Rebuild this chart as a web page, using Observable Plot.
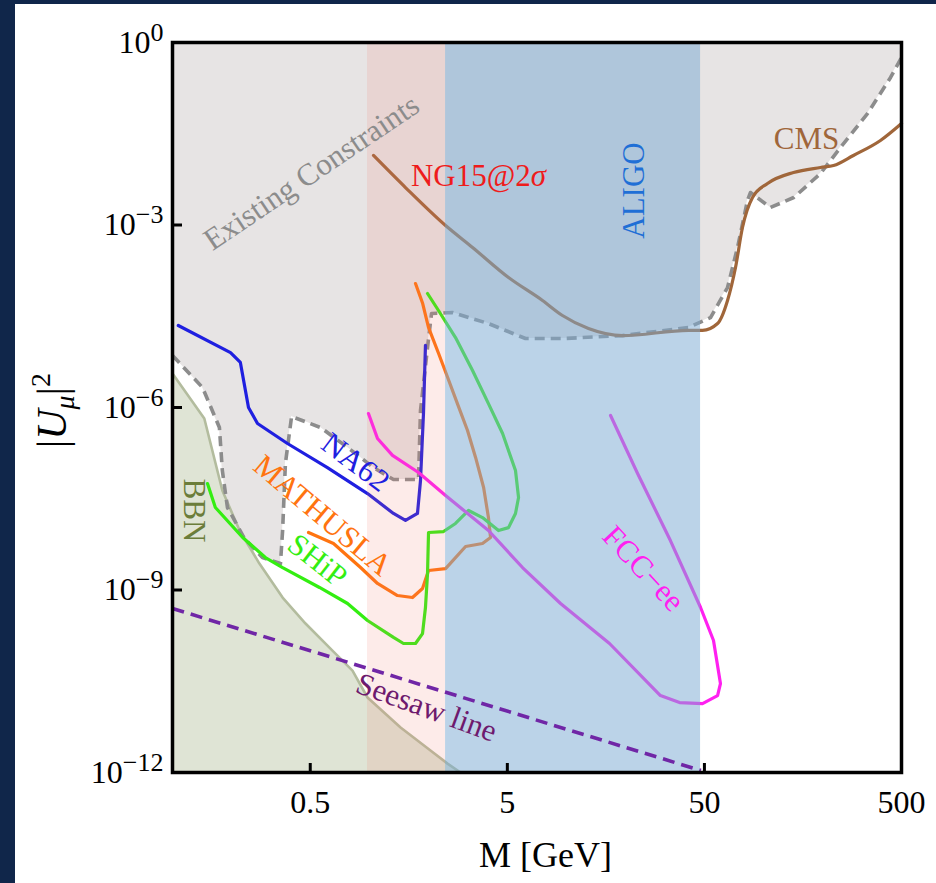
<!DOCTYPE html>
<html><head><meta charset="utf-8">
<script src="https://cdn.jsdelivr.net/npm/d3@7"></script>
<script src="https://cdn.jsdelivr.net/npm/@observablehq/plot@0.6"></script>
<style>
html,body{margin:0;padding:0;background:#10264a;width:936px;height:883px;overflow:hidden;}
#panel{position:absolute;left:15px;top:4px;width:921px;height:879px;background:#fff;}
</style></head><body><div id="panel"></div>
<script>
// ---- data (M in GeV, |U_mu|^2) ----
const existM = [0.1, 0.142, 0.173, 0.179, 0.190, 0.232, 0.286, 0.353, 0.362, 0.374, 0.402, 0.564, 0.773, 1.047, 1.322, 1.771, 1.813, 1.968, 2.062, 2.634, 4.01, 6.18, 9.52, 19.2, 41.5, 53.7, 65.5, 73.6, 82.7, 85.6, 108, 142, 194, 245, 336, 440, 500];
const existU = [7.16e-6, 2.13e-6, 4.69e-7, 9.2e-8, 2.27e-8, 7.0e-9, 3.42e-9, 2.72e-9, 9.5e-9, 1.2e-7, 7.11e-7, 4.69e-7, 2.2e-7, 1.03e-7, 6.55e-8, 6.55e-8, 8.91e-7, 9.68e-6, 3.51e-5, 3.64e-5, 2.4e-5, 1.36e-5, 1.36e-5, 1.52e-5, 2.07e-5, 3.01e-5, 9.38e-5, 4.27e-4, 2.53e-3, 3.42e-3, 1.94e-3, 2.83e-3, 7.02e-3, 1.88e-2, 6.8e-2, 0.266, 0.567];

const bbnM = [0.1, 0.145, 0.179, 0.219, 0.276, 0.362, 0.473, 0.648, 0.819, 0.976, 1.436, 2.037, 2.486, 2.893];
const bbnU = [3.62e-6, 6.59e-7, 4.32e-8, 9.5e-9, 2.72e-9, 7.52e-10, 2.81e-10, 1.01e-10, 4.74e-11, 1.71e-11, 5.48e-12, 2.3e-12, 1.4e-12, 1e-12];

const na62M = [0.107, 0.197, 0.221, 0.243, 0.270, 0.383, 0.611, 0.976, 1.322, 1.521, 1.750, 1.813, 1.877, 1.921];
const na62U = [2.23e-5, 8.0e-6, 5.5e-6, 1.0e-6, 5.46e-7, 2.56e-7, 1.03e-7, 3.85e-8, 1.81e-8, 1.39e-8, 1.81e-8, 6.31e-8, 7.96e-7, 1.05e-5];

const mathM = [0.490, 0.656, 0.900, 1.097, 1.385, 1.651, 1.856, 1.991, 2.43, 3.07, 3.74, 4.11, 4.01, 3.79, 3.45, 3.14, 2.79, 2.49, 2.24, 1.99, 1.86, 1.71];
const mathU = [8.81e-9, 5.81e-9, 2.34e-9, 1.28e-9, 8.11e-10, 7.52e-10, 1.06e-9, 2.09e-9, 2.25e-9, 5.19e-9, 5.81e-9, 7.29e-9, 1.55e-8, 4.84e-8, 1.51e-7, 4.19e-7, 1.16e-6, 3.11e-6, 7.71e-6, 2.07e-5, 5.12e-5, 1.09e-4];

const shipM = [0.1505, 0.165, 0.227, 0.296, 0.362, 0.557, 0.773, 0.976, 1.322, 1.486, 1.710, 1.856, 1.921, 1.968, 1.991, 2.372, 2.729, 3.177, 3.74, 4.51, 5.07, 5.50, 5.70, 5.50, 4.73, 4.01, 3.33, 2.729, 2.237, 1.968];
const shipU = [5.62e-8, 2.27e-8, 7.29e-9, 3.42e-9, 2.34e-9, 1.1e-9, 6.0e-10, 3.15e-10, 1.66e-10, 1.32e-10, 1.32e-10, 1.92e-10, 5.15e-10, 1.87e-9, 8.81e-9, 9.14e-9, 1.24e-8, 2.03e-8, 1.55e-8, 9.5e-9, 1.06e-8, 1.81e-8, 3.31e-8, 9.2e-8, 3.73e-7, 1.16e-6, 4.05e-6, 1.41e-5, 3.93e-5, 7.48e-5];

const fccM = [0.987, 1.097, 1.307, 1.771, 2.43, 4.01, 5.97, 9.31, 16.5, 29.9, 37.4, 48.9, 58.3, 60.3, 55.6, 47.8, 33.6, 22.9, 16.7];
const fccU = [7.96e-7, 3.09e-7, 1.63e-7, 8.53e-8, 3.57e-8, 9.5e-9, 2.34e-9, 6.0e-10, 1.32e-10, 1.84e-11, 1.41e-11, 1.36e-11, 1.84e-11, 2.9e-11, 1.48e-10, 5.15e-10, 6.5e-9, 8.22e-8, 7.38e-7];

const cmsM = [1.047, 1.521, 2.43, 3.33, 5.07, 7.54, 9.52, 12.9, 19.2, 41.5, 48.9, 58.3, 65.5, 71.9, 78.0, 87.7, 104.5, 141.6, 194, 226, 285, 391, 500];
const cmsU = [1.39e-2, 4.13e-3, 9.8e-4, 4.27e-4, 1.37e-4, 5.74e-5, 3.25e-5, 1.99e-5, 1.52e-5, 1.85e-5, 1.85e-5, 2.4e-5, 5.74e-5, 2.0e-4, 9.1e-4, 2.83e-3, 4.81e-3, 7.29e-3, 8.81e-3, 9.5e-3, 1.39e-2, 2.45e-2, 4.66e-2];

const seesawM = [0.1, 48];
const seesawU = [4.96e-10, 1.08e-12];

const ng15Band = [0.976, 2.43];
const aligoBand = [2.43, 47.8];

const xTickVals = [0.5, 5, 50, 500];
const xTickLabels = ["0.5", "5", "50", "500"];
const yTickVals = [1, 1e-3, 1e-6, 1e-9, 1e-12];
const yTickLabels = ["10^0", "10^−3", "10^−6", "10^−9", "10^−12"];

const labels = [
  {text: "Existing Constraints", M: 0.507, U: 7.3e-3, rotate: -34, color: "#8c8c8c"},
  {text: "NG15@2σ", M: 3.57, U: 6.3e-3, rotate: 0, color: "#ee1c1c"},
  {text: "ALIGO", M: 22.1, U: 3.69e-3, rotate: -90, color: "#1f6fd6"},
  {text: "CMS", M: 165, U: 2.54e-2, rotate: 0, color: "#a0663a"},
  {text: "NA62", M: 0.848, U: 1.25e-7, rotate: 37, color: "#1f1fe0"},
  {text: "MATHUSLA", M: 0.577, U: 1.68e-8, rotate: 40, color: "#ff7410"},
  {text: "SHiP", M: 0.544, U: 3.05e-9, rotate: 38, color: "#33ee11"},
  {text: "BBN", M: 0.1278, U: 2.03e-8, rotate: 90, color: "#6b7d3a"},
  {text: "FCC−ee", M: 24.5, U: 2.25e-9, rotate: 47, color: "#ff20f0"},
  {text: "Seesaw line", M: 1.945, U: 1.17e-11, rotate: 20, color: "#6e1a6e"}
];
const yTitle = {text: "|Uμ|2", M: 0.1, U: 8.9e-7};

// ---- build ----
const rows = (M, U) => M.map((m, i) => ({M: m, U: U[i]}));
const font = "'Liberation Serif', 'Times New Roman', serif";
const existData = rows(existM, existU).map(d => ({...d, top: 1}));
const bbnData = rows(bbnM, bbnU).map(d => ({...d, bottom: 1e-12}));
const lineOpts = {x: "M", y: "U", strokeWidth: 3.2, strokeLinejoin: "round", strokeLinecap: "round"};

const chart = Plot.plot({
  width: 921, height: 879,
  marginLeft: 157, marginRight: 35, marginTop: 38, marginBottom: 111,
  x: {type: "log", domain: [0.1, 500], axis: null},
  y: {type: "log", domain: [1e-12, 1], axis: null},
  style: {fontFamily: font, background: "transparent", overflow: "visible", color: "black"},
  marks: [
    Plot.areaY(existData, {x: "M", y1: "U", y2: "top", fill: "#e7e4e4"}),
    Plot.areaY(bbnData, {x: "M", y1: "bottom", y2: "U", fill: "#dfe4d5"}),
    Plot.line(bbnData, {...lineOpts, stroke: "#b3bc9e", strokeWidth: 2.6}),
    Plot.line(rows(existM, existU), {...lineOpts, stroke: "#8c8c8c", strokeWidth: 3.6, strokeDasharray: "10,6", strokeLinecap: "butt"}),
    Plot.line(rows(cmsM, cmsU), {...lineOpts, stroke: "#a0663a", curve: "monotone-x"}),
    Plot.line(rows(na62M, na62U), {...lineOpts, stroke: "#1f1fe0"}),
    Plot.line(rows(mathM, mathU), {...lineOpts, stroke: "#ff7410"}),
    Plot.line(rows(shipM, shipU), {...lineOpts, stroke: "#33ee11"}),
    Plot.line(rows(fccM, fccU), {...lineOpts, stroke: "#ff20f0"}),
    Plot.rect([{x1: ng15Band[0], x2: ng15Band[1], y1: 1e-12, y2: 1}], {x1: "x1", x2: "x2", y1: "y1", y2: "y2", fill: "#f07a6a", fillOpacity: 0.15}),
    Plot.rect([{x1: aligoBand[0], x2: aligoBand[1], y1: 1e-12, y2: 1}], {x1: "x1", x2: "x2", y1: "y1", y2: "y2", fill: "#7caad3", fillOpacity: 0.52}),
    Plot.line(rows(seesawM, seesawU), {...lineOpts, stroke: "#7026a6", strokeWidth: 3.6, strokeDasharray: "12,7", strokeLinecap: "butt"}),
    ...labels.map(l => Plot.text([l], {x: "M", y: "U", text: "text", rotate: l.rotate, fill: l.color, fontSize: 31, textAnchor: "middle", lineAnchor: "middle"})),
    Plot.tickX(xTickVals.slice(0, 3), {x: d => d, insetTop: 721, strokeWidth: 3, stroke: "black"}),
    Plot.tickY(yTickVals.slice(1, 4), {y: d => d, insetRight: 719, strokeWidth: 3, stroke: "black"}),
    Plot.frame({stroke: "black", strokeWidth: 3.5}),
    Plot.text(xTickVals, {x: d => d, frameAnchor: "bottom", text: (d, i) => xTickLabels[i], dy: 30, fontSize: 32, lineAnchor: "middle", fill: "black"}),
    Plot.axisY({ticks: yTickVals, tickSize: 0, tickPadding: 9, fontSize: 32, tickFormat: d => yTickLabels[yTickVals.indexOf(d)], label: null}),
    Plot.text(["M [GeV]"], {text: d => d, frameAnchor: "bottom", dx: 8.5, dy: 83, fontSize: 36, lineAnchor: "middle"}),
    Plot.text([yTitle], {x: "M", y: "U", text: "text", dx: -120, rotate: -90, fontSize: 42, textAnchor: "middle", lineAnchor: "middle"})
  ]
});

document.getElementById("panel").appendChild(chart);

// rich text: superscripts, italics
const svg = d3.select(chart);
svg.selectAll('g[aria-label="y-axis tick label"] text').each(function() {
  const parts = this.textContent.split("^");
  if (parts.length !== 2) return;
  const s = d3.select(this);
  s.text(parts[0]);
  s.append("tspan").attr("font-size", 26).attr("dy", -12).text(parts[1]);
});
svg.selectAll("text").each(function() {
  const t = this.textContent;
  const s = d3.select(this);
  if (t === "NG15@2σ") {
    s.text("NG15@2");
    s.append("tspan").attr("font-style", "italic").text("σ");
  } else if (t === "|Uμ|2") {
    s.text("|");
    s.append("tspan").attr("font-style", "italic").text("U");
    s.append("tspan").attr("font-style", "italic").attr("font-size", 28).attr("dy", 8).text("μ");
    s.append("tspan").attr("dy", -8).text("|");
    s.append("tspan").attr("font-size", 28).attr("dy", -16).text("2");
  }
});
</script></body></html>
